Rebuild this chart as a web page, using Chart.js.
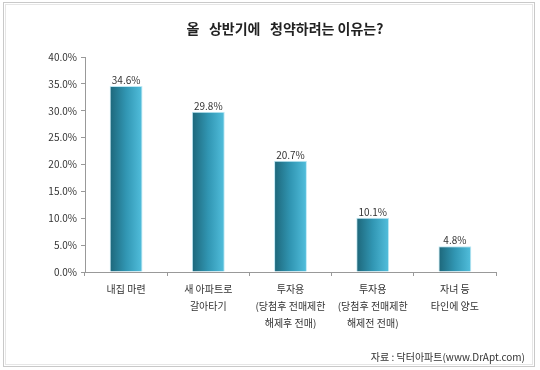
<!DOCTYPE html>
<html>
<head>
<meta charset="utf-8">
<script src="https://cdn.jsdelivr.net/npm/chart.js@4/dist/chart.umd.min.js"></script>
<style>
  html, body { margin: 0; padding: 0; background: #fff; }
  #wrap { width: 540px; height: 370px; }
</style>
</head>
<body>
<div id="wrap"><canvas id="reasonChart" width="540" height="370"></canvas></div>
<script>
// data
const titleText = '올   상반기에   청약하려는 이유는?';
const sourceText = '자료 : 닥터아파트(www.DrApt.com)';
const categories = [
  ['내집 마련'],
  ['새 아파트로', '갈아타기'],
  ['투자용', '(당첨후 전매제한', '해제후 전매)'],
  ['투자용', '(당첨후 전매제한', '해제전 전매)'],
  ['자녀 등', '타인에 양도']
];
const shares = [34.6, 29.8, 20.7, 10.1, 4.8];
const yTicks = [0, 5, 10, 15, 20, 25, 30, 35, 40];

const FONT = '"Noto Sans CJK KR", "Noto Sans", sans-serif';
const BAR_PCT = 0.4;

// gradient for each bar, left dark teal -> right light cyan
function barGradient(c) {
  const chart = c.chart;
  const xs = chart.scales.x;
  if (!xs || !chart.chartArea) return '#2f8fad';
  const cx = xs.getPixelForValue(c.dataIndex);
  const w = (xs.width / categories.length) * BAR_PCT;
  const g = chart.ctx.createLinearGradient(cx - w / 2, 0, cx + w / 2, 0);
  g.addColorStop(0, '#1d6679');
  g.addColorStop(0.5, '#3196b3');
  g.addColorStop(1, '#52bfdd');
  return g;
}

// frame, title, value labels, source
const decorPlugin = {
  id: 'decor',
  beforeDraw(chart) {
    const ctx = chart.ctx;
    ctx.save();
    ctx.fillStyle = '#fff';
    ctx.fillRect(0, 0, chart.width, chart.height);
    ctx.strokeStyle = '#c9c9c9';
    ctx.lineWidth = 1;
    ctx.strokeRect(3.5, 2.5, 531, 364);
    ctx.strokeStyle = '#e6e6e6';
    ctx.strokeRect(5.5, 4.5, 527, 360);
    ctx.restore();
  },
  afterDraw(chart) {
    const ctx = chart.ctx;
    ctx.save();
    ctx.fillStyle = '#222';
    ctx.font = 'bold 14px ' + FONT;
    ctx.textAlign = 'center';
    ctx.textBaseline = 'middle';
    ctx.fillText(titleText, 285, 29);

    ctx.font = '10px ' + FONT;
    ctx.fillStyle = '#333';
    ctx.textBaseline = 'bottom';
    const meta = chart.getDatasetMeta(0);
    meta.data.forEach((bar, i) => {
      ctx.fillText(shares[i].toFixed(1) + '%', bar.x, bar.y - 1);
    });

    ctx.textAlign = 'right';
    ctx.textBaseline = 'middle';
    ctx.fillText(sourceText, 525, 357);
    ctx.restore();
  }
};

new Chart(document.getElementById('reasonChart').getContext('2d'), {
  type: 'bar',
  data: {
    labels: categories,
    datasets: [{
      data: shares,
      backgroundColor: barGradient,
      borderColor: '#bfe9f5',
      borderWidth: 1,
      categoryPercentage: 1,
      barPercentage: BAR_PCT
    }]
  },
  options: {
    responsive: false,
    animation: false,
    devicePixelRatio: 1,
    layout: { padding: { left: 0, right: 44, top: 57, bottom: 0 } },
    plugins: {
      legend: { display: false },
      title: { display: false },
      tooltip: { enabled: false }
    },
    scales: {
      x: {
        afterFit(s) { s.height = 98; },
        grid: {
          offset: true,
          drawOnChartArea: false,
          drawTicks: true,
          tickLength: 4,
          color: '#999'
        },
        border: { display: true, color: '#999' },
        ticks: {
          color: '#333',
          padding: 5,
          font: { family: FONT, size: 10, lineHeight: 1.7 },
          maxRotation: 0,
          autoSkip: false
        }
      },
      y: {
        min: 0,
        max: 40,
        afterFit(s) { s.width = 85; },
        afterBuildTicks(s) { s.ticks = yTicks.map(v => ({ value: v })); },
        grid: {
          drawOnChartArea: false,
          drawTicks: true,
          tickLength: 4,
          color: '#999'
        },
        border: { display: true, color: '#999' },
        ticks: {
          color: '#333',
          padding: 4,
          font: { family: FONT, size: 10 },
          callback: v => v.toFixed(1) + '%'
        }
      }
    }
  },
  plugins: [decorPlugin]
});
</script>
</body>
</html>
